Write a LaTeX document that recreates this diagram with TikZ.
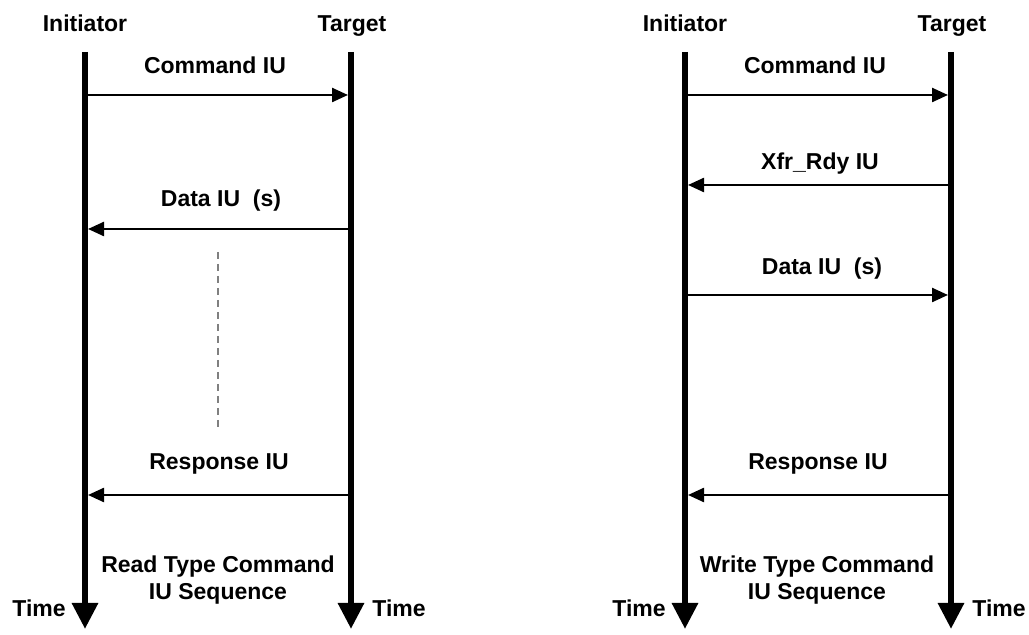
\documentclass[tikz,border=0pt]{standalone}
\usepackage{fontspec}
\setmainfont{Liberation Sans}
\usetikzlibrary{arrows.meta}
\tikzset{
    lifeline/.style={line width=3pt,-{Triangle[length=13pt,width=12.5pt]}},
    msg/.style={line width=1.2pt,-{Triangle[length=8pt,width=7pt]},shorten <=1.5pt,shorten >=1.5pt},
    lbl/.style={anchor=base,inner sep=0pt,align=center,font=\bfseries\fontsize{11.5}{13.5}\selectfont},
    gapline/.style={draw=gray,line width=1pt,dash pattern=on 3.5pt off 2.5pt}
}
\begin{document}
\begin{tikzpicture}[x=0.5pt,y=-0.5pt]
    \useasboundingbox (0,0) rectangle (1029,635);
    % read type sequence
    \node[lbl] (ini1) at (85,32) {Initiator};
    \node[lbl] (tgt1) at (352,32) {Target};
    \coordinate (ini1top) at (85,52);
    \coordinate (ini1bot) at (85,629);
    \coordinate (tgt1top) at (351,52);
    \coordinate (tgt1bot) at (351,629);
    \draw[lifeline] (ini1top) -- (ini1bot);
    \draw[lifeline] (tgt1top) -- (tgt1bot);
    \coordinate (rcmd) at (0,95);
    \coordinate (rdata) at (0,229);
    \coordinate (rresp) at (0,495);
    \node[lbl] (rcmdlbl) at (215,74) {Command IU};
    \draw[msg] (ini1top |- rcmd) -- (tgt1top |- rcmd);
    \node[lbl] (rdatalbl) at (221,207) {Data IU\ \ (s)};
    \draw[msg] (tgt1top |- rdata) -- (ini1top |- rdata);
    \coordinate (gaptop) at (218,252);
    \coordinate (gapbot) at (218,427);
    \draw[gapline] (gaptop) -- (gapbot);
    \node[lbl] (rresplbl) at (219,470) {Response IU};
    \draw[msg] (tgt1top |- rresp) -- (ini1top |- rresp);
    \node[lbl] (time1) at (39,617) {Time};
    \node[lbl,anchor=base west] (time2) at (372,617) {Time};
    \node[lbl] (rseq) at (218,600) {Read Type Command\\IU Sequence};
    % write type sequence
    \node[lbl] (ini2) at (685,32) {Initiator};
    \node[lbl] (tgt2) at (952,32) {Target};
    \coordinate (ini2top) at (685,52);
    \coordinate (ini2bot) at (685,629);
    \coordinate (tgt2top) at (951,52);
    \coordinate (tgt2bot) at (951,629);
    \draw[lifeline] (ini2top) -- (ini2bot);
    \draw[lifeline] (tgt2top) -- (tgt2bot);
    \coordinate (wcmd) at (0,95);
    \coordinate (wxfr) at (0,185);
    \coordinate (wdata) at (0,295);
    \coordinate (wresp) at (0,495);
    \node[lbl] (wcmdlbl) at (815,74) {Command IU};
    \draw[msg] (ini2top |- wcmd) -- (tgt2top |- wcmd);
    \node[lbl] (wxfrlbl) at (820,170) {Xfr\_Rdy IU};
    \draw[msg] (tgt2top |- wxfr) -- (ini2top |- wxfr);
    \node[lbl] (wdatalbl) at (822,275) {Data IU\ \ (s)};
    \draw[msg] (ini2top |- wdata) -- (tgt2top |- wdata);
    \node[lbl] (wresplbl) at (818,470) {Response IU};
    \draw[msg] (tgt2top |- wresp) -- (ini2top |- wresp);
    \node[lbl] (time3) at (639,617) {Time};
    \node[lbl,anchor=base west] (time4) at (972,617) {Time};
    \node[lbl] (wseq) at (817,600) {Write Type Command\\IU Sequence};
\end{tikzpicture}
\end{document}
